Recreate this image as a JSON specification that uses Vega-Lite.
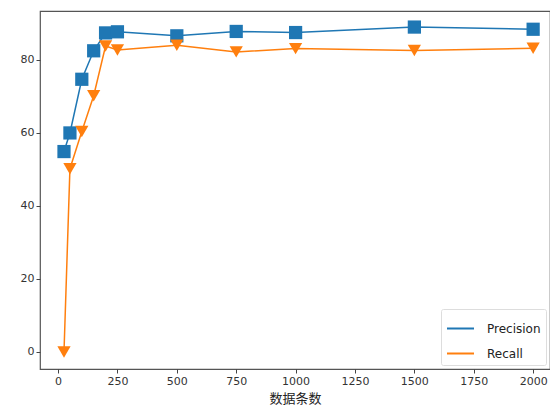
{
  "$schema": "https://vega.github.io/schema/vega-lite/v6.json",
  "width": 510,
  "height": 358,
  "autosize": {"type": "none"},
  "padding": {"left": 40, "top": 11, "right": 0, "bottom": 41},
  "background": "white",
  "config": {
    "view": {"stroke": "#555", "strokeWidth": 1.2},
    "font": "DejaVu Sans",
    "axis": {
      "domain": false,
      "grid": false,
      "tickColor": "#444",
      "tickSize": 4,
      "labelColor": "#333",
      "labelFontSize": 11,
      "labelFont": "DejaVu Sans",
      "titleColor": "#222",
      "titleFontWeight": "normal"
    }
  },
  "data": {
    "values": [
      {"n": 25, "metric": "Precision", "value": 54.9},
      {"n": 50, "metric": "Precision", "value": 60.0},
      {"n": 100, "metric": "Precision", "value": 74.7},
      {"n": 150, "metric": "Precision", "value": 82.5},
      {"n": 200, "metric": "Precision", "value": 87.4},
      {"n": 250, "metric": "Precision", "value": 87.7},
      {"n": 500, "metric": "Precision", "value": 86.6},
      {"n": 750, "metric": "Precision", "value": 87.8},
      {"n": 1000, "metric": "Precision", "value": 87.5},
      {"n": 1500, "metric": "Precision", "value": 89.0},
      {"n": 2000, "metric": "Precision", "value": 88.4},
      {"n": 25, "metric": "Recall", "value": 0.0},
      {"n": 50, "metric": "Recall", "value": 50.2},
      {"n": 100, "metric": "Recall", "value": 60.4},
      {"n": 150, "metric": "Recall", "value": 70.2},
      {"n": 200, "metric": "Recall", "value": 83.8},
      {"n": 250, "metric": "Recall", "value": 82.7},
      {"n": 500, "metric": "Recall", "value": 84.0},
      {"n": 750, "metric": "Recall", "value": 82.2},
      {"n": 1000, "metric": "Recall", "value": 83.1},
      {"n": 1500, "metric": "Recall", "value": 82.6},
      {"n": 2000, "metric": "Recall", "value": 83.2}
    ]
  },
  "encoding": {
    "x": {
      "field": "n",
      "type": "quantitative",
      "scale": {"domain": [-76, 2071], "nice": false, "zero": false},
      "axis": {
        "values": [0, 250, 500, 750, 1000, 1250, 1500, 1750, 2000],
        "format": "d",
        "title": "数据条数",
        "titleFont": "Noto Sans CJK SC",
        "titleFontSize": 13,
        "titlePadding": 6,
        "labelFlush": false
      }
    },
    "y": {
      "field": "value",
      "type": "quantitative",
      "scale": {"domain": [-4.66, 93.4], "nice": false, "zero": false},
      "axis": {"values": [0, 20, 40, 60, 80], "title": null}
    }
  },
  "layer": [
    {
      "mark": {"type": "line", "strokeWidth": 1.5},
      "encoding": {
        "color": {
          "field": "metric",
          "type": "nominal",
          "scale": {"domain": ["Precision", "Recall"], "range": ["#1f77b4", "#ff7f0e"]},
          "legend": {
            "title": null,
            "orient": "bottom-right",
            "offset": 4,
            "symbolType": "stroke",
            "symbolSize": 729,
            "symbolStrokeWidth": 2,
            "labelFontSize": 12,
            "labelColor": "#222",
            "labelFont": "DejaVu Sans",
            "labelOffset": 12,
            "rowPadding": 4,
            "padding": 5,
            "fillColor": "white",
            "strokeColor": "#ddd",
            "cornerRadius": 2
          }
        }
      }
    },
    {
      "transform": [{"filter": "datum.metric === 'Precision'"}],
      "mark": {"type": "point", "shape": "square", "filled": true, "size": 175, "opacity": 1, "strokeWidth": 0, "color": "#1f77b4"},
      "encoding": {}
    },
    {
      "transform": [{"filter": "datum.metric === 'Recall'"}],
      "mark": {"type": "point", "shape": "triangle-down", "filled": true, "size": 175, "opacity": 1, "strokeWidth": 0, "color": "#ff7f0e"},
      "encoding": {}
    }
  ]
}
